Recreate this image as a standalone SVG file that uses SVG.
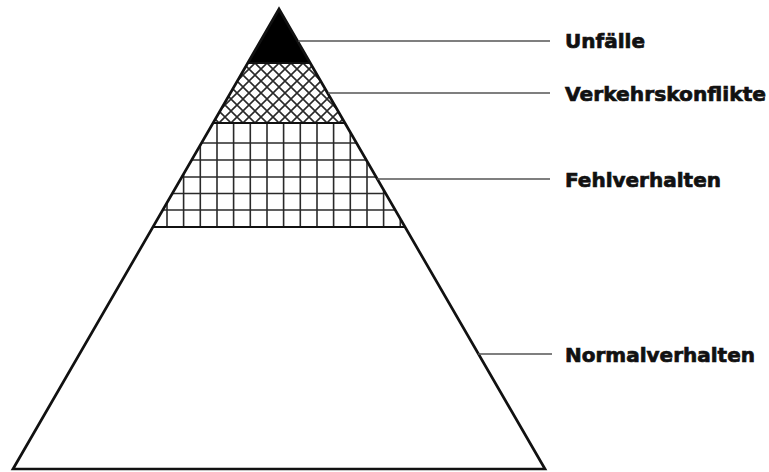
<svg xmlns="http://www.w3.org/2000/svg" width="769" height="472" viewBox="0 0 769 472">
  <style>
    .label { font-family: "DejaVu Sans", "Liberation Sans", sans-serif; font-weight: bold; font-size: 20px; fill: #111; stroke: #111; stroke-width: 0.7; }
    .outline { fill: none; stroke: #111; stroke-width: 2.7; stroke-linejoin: miter; }
    .band { stroke: #111; stroke-width: 2.2; }
    .leader { stroke: #555; stroke-width: 1.3; }
    .grid line { stroke: #2a2a2a; stroke-width: 1.6; }
  </style>
  <defs>
    <pattern id="cross" patternUnits="userSpaceOnUse" x="243" y="63" width="12" height="12">
      <path d="M0,0 L12,12 M12,0 L0,12 M-1,11 L1,13 M11,-1 L13,1" stroke="#2a2a2a" stroke-width="1.6" fill="none"/>
    </pattern>
    <clipPath id="gridClip">
      <polygon points="213.1,123 344.9,123 405,227 153,227"/>
    </clipPath>
  </defs>
  <rect width="769" height="472" fill="#fff"/>

  <g id="normalverhalten-layer">
    <polygon points="153,227 405,227 545,469 13,469" fill="#fff"/>
  </g>

  <g id="fehlverhalten-layer">
    <polygon points="213.1,123 344.9,123 405,227 153,227" fill="#fff"/>
    <g class="grid" clip-path="url(#gridClip)">
      <line x1="167" y1="120" x2="167" y2="230"/>
      <line x1="183.6" y1="120" x2="183.6" y2="230"/>
      <line x1="200.3" y1="120" x2="200.3" y2="230"/>
      <line x1="217" y1="120" x2="217" y2="230"/>
      <line x1="233.6" y1="120" x2="233.6" y2="230"/>
      <line x1="250.3" y1="120" x2="250.3" y2="230"/>
      <line x1="267" y1="120" x2="267" y2="230"/>
      <line x1="283.6" y1="120" x2="283.6" y2="230"/>
      <line x1="300.3" y1="120" x2="300.3" y2="230"/>
      <line x1="317" y1="120" x2="317" y2="230"/>
      <line x1="333.6" y1="120" x2="333.6" y2="230"/>
      <line x1="350.3" y1="120" x2="350.3" y2="230"/>
      <line x1="367" y1="120" x2="367" y2="230"/>
      <line x1="383.6" y1="120" x2="383.6" y2="230"/>
      <line x1="400.3" y1="120" x2="400.3" y2="230"/>
      <line x1="140" y1="143" x2="420" y2="143"/>
      <line x1="140" y1="160" x2="420" y2="160"/>
      <line x1="140" y1="177" x2="420" y2="177"/>
      <line x1="140" y1="193.5" x2="420" y2="193.5"/>
      <line x1="140" y1="210" x2="420" y2="210"/>
    </g>
  </g>

  <g id="verkehrskonflikte-layer">
    <polygon points="248,63 310,63 344.9,123 213.1,123" fill="url(#cross)"/>
  </g>

  <g id="unfaelle-layer">
    <polygon points="279,9 310.2,63 247.8,63" fill="#000"/>
  </g>

  <g id="pyramid-outline">
    <line class="band" x1="247.8" y1="63" x2="310.2" y2="63"/>
    <line class="band" x1="213.1" y1="123" x2="344.9" y2="123"/>
    <line class="band" x1="153" y1="227" x2="405" y2="227"/>
    <polygon class="outline" points="279,9 545,469 13,469"/>
  </g>

  <g id="connectors">
    <line class="leader" x1="298" y1="41" x2="550" y2="41"/>
    <line class="leader" x1="328" y1="93" x2="550" y2="93"/>
    <line class="leader" x1="377" y1="179" x2="550" y2="179"/>
    <line class="leader" x1="478" y1="354" x2="552" y2="354"/>
  </g>

  <g id="label-unfaelle">
    <text class="label" x="565" y="48">Unfälle</text>
  </g>
  <g id="label-verkehrskonflikte">
    <text class="label" x="565" y="101" textLength="201" lengthAdjust="spacingAndGlyphs">Verkehrskonflikte</text>
  </g>
  <g id="label-fehlverhalten">
    <text class="label" x="565" y="187">Fehlverhalten</text>
  </g>
  <g id="label-normalverhalten">
    <text class="label" x="565" y="362">Normalverhalten</text>
  </g>
</svg>
